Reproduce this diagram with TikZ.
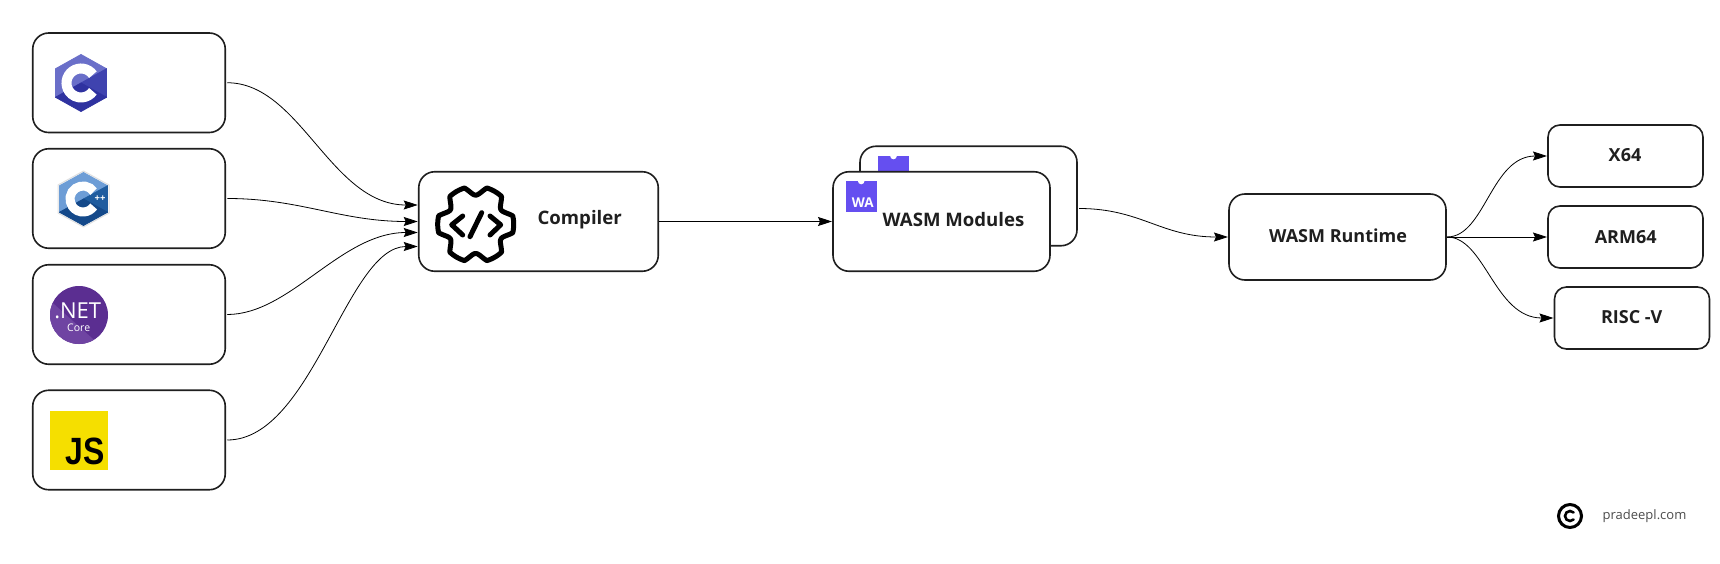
\documentclass[tikz,border=0pt]{standalone}
\usepackage{fontspec}
\setmainfont{Open Sans}
\newfontfamily\jsfont{Liberation Sans}
\usetikzlibrary{arrows.meta,calc}
\definecolor{ink}{HTML}{1F1F1F}
\definecolor{wasm}{HTML}{654FF0}
\definecolor{cA}{HTML}{6A6FC9}
\definecolor{cB}{HTML}{3F43AF}
\definecolor{cC}{HTML}{2F32A0}
\definecolor{pA}{HTML}{6D9DD6}
\definecolor{pB}{HTML}{1F5C9F}
\definecolor{pC}{HTML}{14498A}
\definecolor{nA}{HTML}{5B2E91}
\definecolor{nB}{HTML}{6F44A2}
\definecolor{jsY}{HTML}{F5DF00}
\tikzset{
  box/.style={draw=ink,line width=1.6pt,fill=white,rounded corners=16pt,inner sep=0pt,outer sep=0pt},
  smallbox/.style={box,rounded corners=12pt,minimum width=155pt,minimum height=62pt},
  bigbox/.style={box,minimum width=192.5pt,minimum height=99.5pt},
  wbox/.style={box,minimum width=217pt,minimum height=99.5pt},
  lab/.style={inner sep=0pt,text=ink,font=\fontsize{18}{20}\selectfont\bfseries},
  labbig/.style={lab,font=\fontsize{18.6}{20}\selectfont\bfseries},
  conn/.style={draw=black,line width=0.8pt,-{Stealth[length=14pt,width=9pt,inset=2pt]}},
  icon/.style={line width=5pt,line cap=round,line join=round,draw=black},
  carc/.style={draw=white,line width=10pt},
}
\newcommand{\hexlogo}[7]{%
  \fill[#3,line join=round,draw=#3,line width=0.8pt] (#1,#2) -- (#1-#6,#2+#7/2) -- (#1-#6,#2-#7/2) -- (#1,#2-#7) -- (#1+#6,#2-#7/2) -- cycle;
  \fill[#4,line join=round,draw=#4,line width=0.8pt] (#1,#2) -- (#1+#6,#2-#7/2) -- (#1+#6,#2+#7/2) -- cycle;
  \fill[#5,line join=round,draw=#5,line width=0.8pt] (#1,#2) -- (#1+#6,#2+#7/2) -- (#1,#2+#7) -- (#1-#6,#2+#7/2) -- cycle;
}
\newcommand{\walogo}[3]{%
  \fill[wasm] (#1,#2) rectangle (#1+31,#2+31);
  \fill[white] (#1+15.5,#2) circle (3.3pt);
  \node[inner sep=0pt,text=white,font=\fontsize{13.5}{15}\selectfont\bfseries] (#3) at (#1+17,#2+22) {WA};
}
\begin{document}
\begin{tikzpicture}[x=1pt,y=-1pt]
\useasboundingbox (0,0) rectangle (1720,564);
\fill[white] (0,0) rectangle (1720,564);

% source boxes
\node[bigbox] (cbox) at (129,82.75) {};
\node[bigbox] (cppbox) at (129,198.5) {};
\node[bigbox] (netbox) at (129,314.5) {};
\node[bigbox] (jsbox) at (129,440) {};

% C logo
\hexlogo{81}{83}{cA}{cB}{cC}{25.5}{28.5}
\draw[carc] (81,83) ++(35:14.5pt) arc[start angle=35,end angle=325,radius=14.5pt];

% C++ logo
\fill[white,draw=black!12,line width=1pt,line join=round] (83.5,171) -- (109,185) -- (109,213) -- (83.5,227) -- (58,213) -- (58,185) -- cycle;
\hexlogo{83.5}{199}{pA}{pB}{pC}{24}{26.5}
\draw[carc,line width=9pt] (83,199) ++(35:13pt) arc[start angle=35,end angle=325,radius=13pt];
\node[inner sep=0pt,text=white,font=\fontsize{9.5}{10}\selectfont\bfseries] (pluses) at (100,198.5) {++};

% .NET logo
\fill[nA] (79,315) circle (29pt);
\begin{scope}
  \clip (79,315) circle (29pt);
  \fill[nB] (45,296) -- (102,347) -- (45,347) -- cycle;
\end{scope}
\node[inner sep=0pt,text=white,font=\fontsize{22}{24}\selectfont] (netlab) at (77.7,311) {.NET};
\node[inner sep=0pt,text=white,font=\fontsize{10.5}{12}\selectfont] (corelab) at (78.7,327.5) {Core};

% JS logo
\fill[jsY] (50,411) rectangle (108,470);
\node[inner sep=0pt,text=black,font=\fontsize{38}{40}\jsfont\bfseries,xscale=0.84,transform shape] (jslab) at (85,451.5) {JS};

% compiler
\node[box,minimum width=239.5pt,minimum height=99.5pt] (comp) at (538.5,221.5) {};
\draw[icon] plot[domain=0:359,samples=360] ({475.7+(34+4*min(1,1.8*cos(6*\x)+0.6))*cos(\x)},{224.3-(34+4*min(1,1.8*cos(6*\x)+0.6))*sin(\x)}) -- cycle;
\draw[icon] (462.7,216) -- (451.7,224.8) -- (462.7,235);
\draw[icon] (481.7,212.7) -- (470,236.7);
\draw[icon] (490,216) -- (500.7,224.8) -- (490,235);
\node[labbig] (complab) at (579.7,220) {Compiler};

% WASM modules
\node[wbox] (back) at (968.5,196) {};
\walogo{878}{156}{backwa}
\node[labbig] (backlab) at (980.5,194) {WASM Modules};
\node[wbox] (front) at (941.5,221.5) {};
\walogo{845.7}{181}{frontwa}
\node[labbig] (frontlab) at (953.5,220) {WASM Modules};

% runtime
\node[box,minimum width=217pt,minimum height=86pt] (run) at (1337.5,237) {};
\node[lab] (runlab) at (1338,236) {WASM Runtime};

% targets
\node[smallbox] (x64) at (1625.5,156) {};
\node[lab] (x64lab) at (1625,155) {X64};
\node[smallbox] (arm) at (1625.5,237) {};
\node[lab] (armlab) at (1625.7,237) {ARM64};
\node[smallbox] (risc) at (1632,318) {};
\node[lab] (risclab) at (1631.7,317) {RISC -V};

% connectors
\draw[conn] ([xshift=2pt]cbox.east) .. controls +(73,0) and ($(comp.west)+(-88,-16.5)$) .. ([xshift=-1pt,yshift=16.5pt]comp.west);
\draw[conn] ([xshift=2pt]cppbox.east) .. controls +(73,0) and ($(comp.west)+(-78,0)$) .. ([xshift=-1pt]comp.west);
\draw[conn] ([xshift=2pt]netbox.east) .. controls +(63,0) and ($(comp.west)+(-78,11)$) .. ([xshift=-1pt,yshift=-11pt]comp.west);
\draw[conn] ([xshift=2pt]jsbox.east) .. controls +(85,0) and ($(comp.west)+(-72,25)$) .. ([xshift=-1pt,yshift=-25pt]comp.west);
\draw[conn] ([xshift=1pt]comp.east) -- ([xshift=-1pt]front.west);
\draw[conn] ([xshift=2pt,yshift=-12.5pt]back.east) .. controls +(62,0) and ($(run.west)+(-68,0)$) .. ([xshift=-1pt]run.west);
\draw[conn] ([xshift=1pt]run.east) .. controls +(38,0) and ($(x64.west)+(-57,0)$) .. ([xshift=-1pt]x64.west);
\draw[conn] ([xshift=1pt]run.east) -- ([xshift=-1pt]arm.west);
\draw[conn] ([xshift=1pt]run.east) .. controls +(38,0) and ($(risc.west)+(-60,0)$) .. ([xshift=-1pt]risc.west);

% copyright
\draw[black,line width=3pt] (1570,516) circle (11.5pt);
\draw[black,line width=2.6pt,line cap=round] (1570,516) ++(45:5pt) arc[start angle=45,end angle=315,radius=5pt];
\node[inner sep=0pt,text=black!70,font=\fontsize{13}{14}\selectfont] (site) at (1644.5,516) {pradeepl.com};
\end{tikzpicture}
\end{document}
